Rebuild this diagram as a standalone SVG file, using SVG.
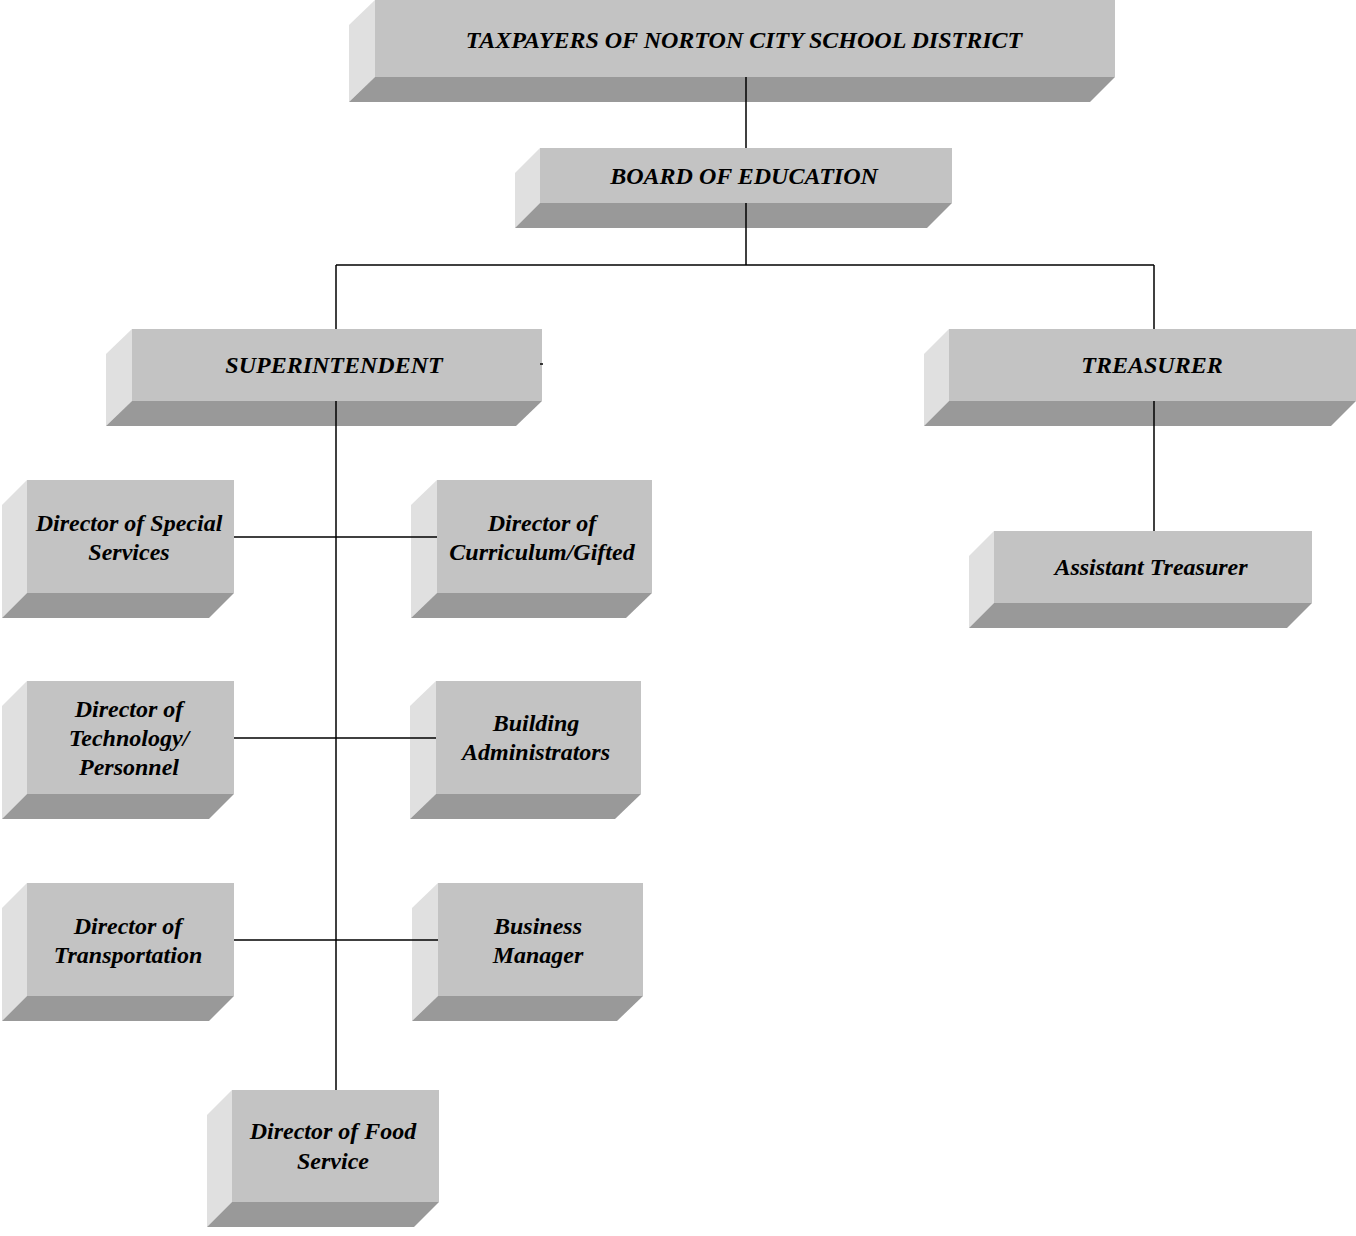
<svg xmlns="http://www.w3.org/2000/svg" width="1356" height="1236" viewBox="0 0 1356 1236">
<style>
.f{fill:#c3c3c3}
.l{fill:#e0e0e0}
.b{fill:#999999}
text{font-family:"Liberation Serif","Times New Roman",serif;font-weight:bold;font-style:italic;font-size:24px;fill:#000;text-anchor:middle}
.c line{stroke:#000;stroke-width:1.5}
</style>
<rect width="1356" height="1236" fill="#fff"/>
<g id="taxpayers">
<polygon class="l" points="349,25 375,0 375,77 349,102"/>
<polygon class="b" points="375,77 1115,77 1090,102 349,102"/>
<rect class="f" x="375" y="0" width="740" height="77"/>
<text x="744" y="48">TAXPAYERS OF NORTON CITY SCHOOL DISTRICT</text>
</g>
<g id="board">
<polygon class="l" points="515,173 540,148 540,203 515,228"/>
<polygon class="b" points="540,203 952,203 927,228 515,228"/>
<rect class="f" x="540" y="148" width="412" height="55"/>
<text x="744" y="184">BOARD OF EDUCATION</text>
</g>
<g id="superintendent">
<polygon class="l" points="106,354 132,329 132,401 106,426"/>
<polygon class="b" points="132,401 542,401 516,426 106,426"/>
<rect class="f" x="132" y="329" width="410" height="72"/>
<text x="334" y="373">SUPERINTENDENT</text>
</g>
<g id="treasurer">
<polygon class="l" points="924,354 949,329 949,401 924,426"/>
<polygon class="b" points="949,401 1356,401 1331,426 924,426"/>
<rect class="f" x="949" y="329" width="407" height="72"/>
<text x="1152" y="373">TREASURER</text>
</g>
<g id="special-services">
<polygon class="l" points="2,505 27,480 27,593 2,618"/>
<polygon class="b" points="27,593 234,593 209,618 2,618"/>
<rect class="f" x="27" y="480" width="207" height="113"/>
<text x="129" y="531">Director of Special</text>
<text x="129" y="560">Services</text>
</g>
<g id="curriculum">
<polygon class="l" points="411,505 437,480 437,593 411,618"/>
<polygon class="b" points="437,593 652,593 626,618 411,618"/>
<rect class="f" x="437" y="480" width="215" height="113"/>
<text x="542" y="531">Director of</text>
<text x="542" y="560">Curriculum/Gifted</text>
</g>
<g id="assistant-treasurer">
<polygon class="l" points="969,556 994,531 994,603 969,628"/>
<polygon class="b" points="994,603 1312,603 1287,628 969,628"/>
<rect class="f" x="994" y="531" width="318" height="72"/>
<text x="1151" y="575">Assistant Treasurer</text>
</g>
<g id="technology">
<polygon class="l" points="2,706 27,681 27,794 2,819"/>
<polygon class="b" points="27,794 234,794 209,819 2,819"/>
<rect class="f" x="27" y="681" width="207" height="113"/>
<text x="129" y="717">Director of</text>
<text x="129" y="746">Technology/</text>
<text x="129" y="775">Personnel</text>
</g>
<g id="building-admin">
<polygon class="l" points="410,706 436,681 436,794 410,819"/>
<polygon class="b" points="436,794 641,794 615,819 410,819"/>
<rect class="f" x="436" y="681" width="205" height="113"/>
<text x="536" y="731">Building</text>
<text x="536" y="760">Administrators</text>
</g>
<g id="transportation">
<polygon class="l" points="2,908 27,883 27,996 2,1021"/>
<polygon class="b" points="27,996 234,996 209,1021 2,1021"/>
<rect class="f" x="27" y="883" width="207" height="113"/>
<text x="128" y="934">Director of</text>
<text x="128" y="963">Transportation</text>
</g>
<g id="business-manager">
<polygon class="l" points="412,908 438,883 438,996 412,1021"/>
<polygon class="b" points="438,996 643,996 617,1021 412,1021"/>
<rect class="f" x="438" y="883" width="205" height="113"/>
<text x="538" y="934">Business</text>
<text x="538" y="963">Manager</text>
</g>
<g id="food-service">
<polygon class="l" points="207,1115 232,1090 232,1202 207,1227"/>
<polygon class="b" points="232,1202 439,1202 414,1227 207,1227"/>
<rect class="f" x="232" y="1090" width="207" height="112"/>
<text x="333" y="1139">Director of Food</text>
<text x="333" y="1169">Service</text>
</g>
<g class="c" id="connectors">
<line x1="746" y1="77" x2="746" y2="148"/>
<line x1="746" y1="203" x2="746" y2="265"/>
<line x1="336" y1="265" x2="1154" y2="265"/>
<line x1="336" y1="265" x2="336" y2="329"/>
<line x1="1154" y1="265" x2="1154" y2="329"/>
<line x1="540" y1="364" x2="543" y2="364"/>
<line x1="336" y1="401" x2="336" y2="1090"/>
<line x1="234" y1="537" x2="437" y2="537"/>
<line x1="234" y1="738" x2="436" y2="738"/>
<line x1="234" y1="940" x2="438" y2="940"/>
<line x1="1154" y1="401" x2="1154" y2="531"/>
</g>
</svg>
